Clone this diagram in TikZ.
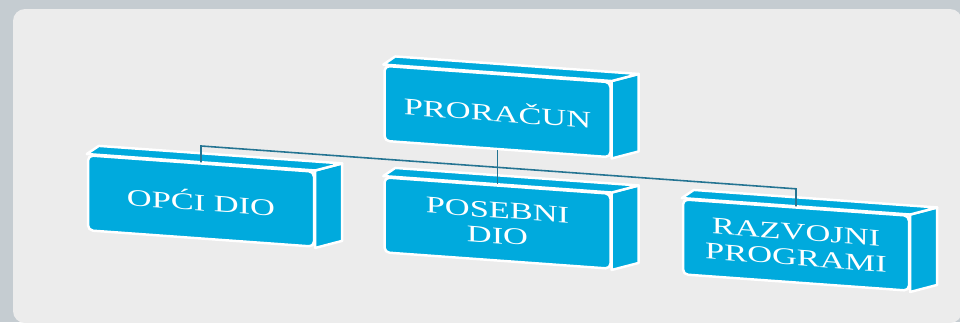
\documentclass[tikz,border=0pt]{standalone}
\usepackage{fontspec}
\setmainfont{Liberation Serif}[FakeStretch=1.45]
\usetikzlibrary{calc}
\definecolor{myblue1}{RGB}{0, 170, 221}
\definecolor{mygray1}{RGB}{236, 236, 236}
\definecolor{mygray2}{RGB}{197, 204, 209}
\definecolor{myteal1}{RGB}{36, 116, 146}
\pgfdeclarelayer{back}
\pgfdeclarelayer{faces}
\pgfsetlayers{back,faces,main}

\begin{document}
\begin{tikzpicture}[
    x = 0.02cm, y = -0.02cm,
    box/.style = {rectangle, rounded corners = 0.1cm, fill = myblue1, draw = white, line width = 1.4pt,
                  minimum width = 4.52cm, minimum height = 1.5cm, text = white, align = center,
                  font = \fontsize{13.5}{14.5}\selectfont, transform shape},
    face/.style = {fill = myblue1, draw = white, line width = 1.4pt, line join = round},
    conn/.style = {draw = myteal1, line width = 0.9pt}
]

\clip (0, 0) rectangle (960, 322);
\begin{pgfonlayer}{back}
\fill[mygray2] (0, 0) rectangle (960, 322);
\fill[mygray1, rounded corners = 0.24cm] (13, 9) rectangle (962, 323);
\end{pgfonlayer}

\begin{scope}[yslant = -0.072]
\node[box] (pr)  at (497.5, 75.7)  {PRORAČUN};
\node[box] (op)  at (201, 186.5)   {OPĆI DIO};
\node[box] (pos) at (497.5, 187.2) {POSEBNI\\DIO};
\node[box] (rz)  at (796, 187.7)   {RAZVOJNI\\PROGRAMI};

\begin{pgfonlayer}{faces}
\foreach \n in {pr, op, pos, rz} {
    \draw[face] (\n.north east) -- ++(27, -9) -- ($(\n.south east) + (27, -9)$) -- (\n.south east) -- cycle;
    \draw[face] (\n.north west) -- ++(12, -9) -- ($(\n.north east) + (27, -9)$) -- (\n.north east) -- cycle;
}
\end{pgfonlayer}

\coordinate (busl) at (201, 131.5);
\coordinate (busr) at (796, 131.5);
\draw[conn] (pr.south) -- (pos.north);
\draw[conn] (op.north) -- (busl) -- (busr) -- (rz.north);
\end{scope}

\end{tikzpicture}
\end{document}
